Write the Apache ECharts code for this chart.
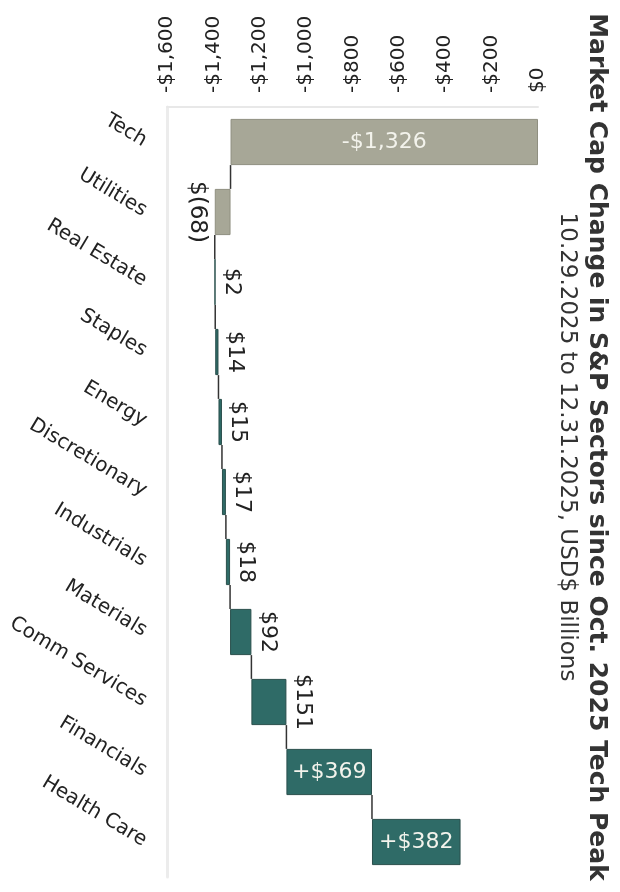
<!DOCTYPE html>
<html>
<head>
<meta charset="utf-8">
<script src="https://cdn.jsdelivr.net/npm/echarts@6/dist/echarts.min.js"></script>
<style>
  html, body { margin: 0; padding: 0; background: #ffffff; }
  #chart { width: 620px; height: 892px; }
</style>
</head>
<body>
<div id="chart"></div>
<script>
// Sector market-cap changes (USD billions), in waterfall order
const sectors = ['Tech', 'Utilities', 'Real Estate', 'Staples', 'Energy', 'Discretionary',
  'Industrials', 'Materials', 'Comm Services', 'Financials', 'Health Care'];
const changes = [-1326, -68, 2, 14, 15, 17, 18, 92, 151, 369, 382];
const valueLabels = ['-$1,326', '$(68)', '$2', '$14', '$15', '$17', '$18', '$92', '$151', '+$369', '+$382'];

// Value axis ticks and their printed labels
const tickValues = [-1600, -1400, -1200, -1000, -800, -600, -400, -200, 0];
const tickLabels = ['-$1,600', '-$1,400', '-$1,200', '-$1,000', '-$800', '-$600', '-$400', '-$200', '$0'];

const titleText = 'Market Cap Change in S&P Sectors since Oct. 2025 Tech Peak';
const subtitleText = '10.29.2025 to 12.31.2025, USD$ Billions';

const FONT = '"DejaVu Sans", sans-serif';
const GRAY = '#a7a797';
const TEAL = '#2f6b67';
const GAP = 0.34;

// Running totals: invisible base + visible step for each bar
const baseVals = [];
const stepVals = [];
const ends = [];
let run = 0;
changes.forEach(function (c) {
  const start = run, end = run + c;
  baseVals.push(Math.max(start, end));
  stepVals.push(-Math.abs(c));
  ends.push(end);
  run = end;
});

const stepData = stepVals.map(function (v, i) {
  const c = changes[i];
  let label;
  if (Math.abs(c) > 300) {
    label = { show: true, position: 'inside', rotate: 0, color: '#f3f3ec', fontSize: 22,
      fontFamily: FONT, formatter: valueLabels[i] };
  } else if (c < 0) {
    label = { show: true, position: 'left', rotate: -90, align: 'center', verticalAlign: 'top',
      distance: 6, color: '#222', fontSize: 23, fontFamily: FONT, formatter: valueLabels[i] };
  } else {
    label = { show: true, position: 'right', rotate: -90, align: 'center', verticalAlign: 'bottom',
      distance: 5, color: '#222', fontSize: 22, fontFamily: FONT, formatter: valueLabels[i] };
  }
  return {
    value: v,
    itemStyle: { color: c < 0 ? GRAY : TEAL, borderColor: c < 0 ? '#8f8f80' : '#2a4f4c', borderWidth: 1 },
    label: label
  };
});

const connectorData = ends.slice(0, -1).map(function (v, i) { return [v, i]; });

const chart = echarts.init(document.getElementById('chart'), null, { renderer: 'canvas' });

chart.setOption({
  animation: false,
  backgroundColor: '#ffffff',
  grid: { left: 167, right: 82, top: 107, bottom: 15, containLabel: false },
  xAxis: {
    type: 'value',
    position: 'top',
    min: -1600,
    max: 0,
    interval: 200,
    axisLine: { show: true, lineStyle: { color: '#e8e8e8', width: 2 } },
    axisTick: { show: false },
    splitLine: { show: false },
    axisLabel: {
      rotate: -90,
      margin: 14,
      color: '#222',
      fontSize: 20,
      fontFamily: FONT,
      formatter: function (v) {
        const k = tickValues.indexOf(v);
        return k >= 0 ? tickLabels[k] : '';
      }
    }
  },
  yAxis: {
    type: 'category',
    inverse: true,
    data: sectors,
    axisLine: { show: true, onZero: false, lineStyle: { color: '#ececec', width: 3 } },
    axisTick: { show: false },
    axisLabel: {
      rotate: -31,
      margin: 22,
      color: '#222',
      fontSize: 20,
      fontFamily: FONT
    }
  },
  graphic: [
    {
      type: 'text',
      x: 596, y: 447,
      rotation: -Math.PI / 2,
      style: {
        text: titleText,
        font: 'bold 25px ' + FONT,
        fill: '#333',
        textAlign: 'center',
        textVerticalAlign: 'middle'
      }
    },
    {
      type: 'text',
      x: 567, y: 447,
      rotation: -Math.PI / 2,
      style: {
        text: subtitleText,
        font: '23px ' + FONT,
        fill: '#333',
        textAlign: 'center',
        textVerticalAlign: 'middle'
      }
    }
  ],
  series: [
    {
      name: 'base',
      type: 'bar',
      stack: 'waterfall',
      barCategoryGap: (GAP * 100) + '%',
      itemStyle: { color: 'transparent' },
      emphasis: { disabled: true },
      silent: true,
      data: baseVals
    },
    {
      name: 'change',
      type: 'bar',
      stack: 'waterfall',
      barCategoryGap: (GAP * 100) + '%',
      data: stepData
    },
    {
      name: 'connectors',
      type: 'custom',
      silent: true,
      encode: { x: 0, y: 1 },
      renderItem: function (params, api) {
        const p = api.coord([api.value(0), api.value(1)]);
        const band = api.size([0, 1])[1];
        const half = band * (1 - GAP) / 2;
        return {
          type: 'line',
          shape: { x1: p[0], y1: p[1] + half, x2: p[0], y2: p[1] + band - half },
          style: { stroke: '#333', lineWidth: 1.5 }
        };
      },
      data: connectorData,
      z: 5
    }
  ]
});
</script>
</body>
</html>
